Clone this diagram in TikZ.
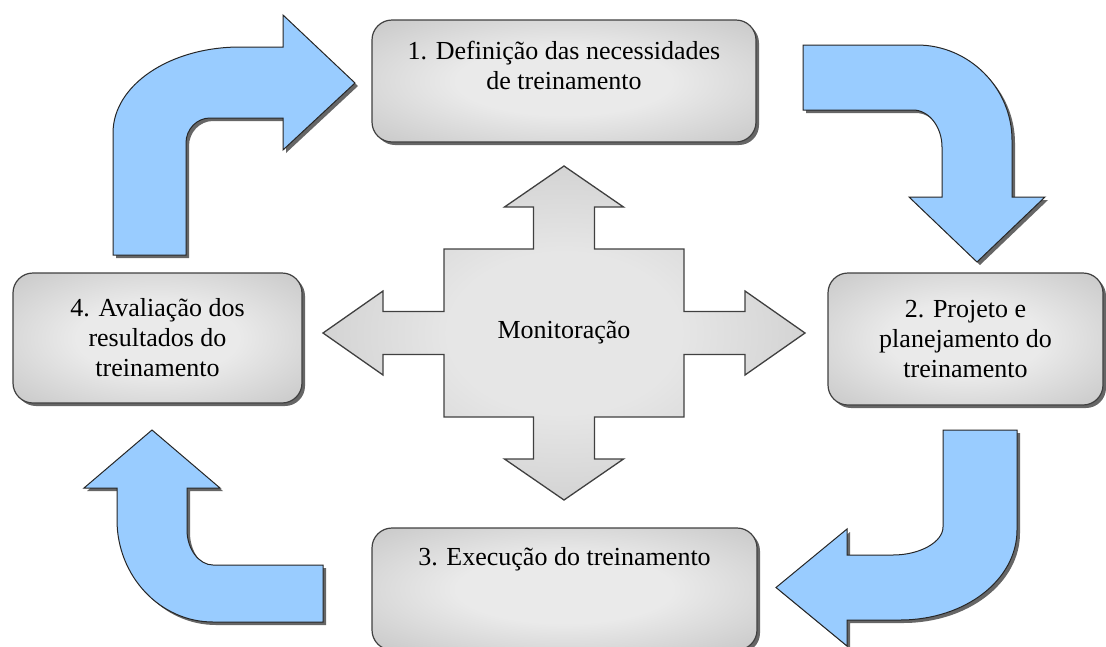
\documentclass[tikz,border=0pt]{standalone}
\usepackage{fontspec}
\setmainfont{Liberation Serif}
\usetikzlibrary{positioning,shadows}

\definecolor{cycleblue}{RGB}{153,204,255}
\definecolor{boxlight}{RGB}{234,234,234}
\definecolor{boxdark}{RGB}{178,178,178}
\definecolor{monlight}{RGB}{230,230,230}
\definecolor{mondark}{RGB}{176,176,176}
\pgfdeclareradialshading{boxshade}{\pgfpoint{0bp}{0bp}}{color(0bp)=(boxlight); color(14bp)=(boxlight); color(50bp)=(boxdark)}
\pgfdeclareradialshading{monshade}{\pgfpoint{0bp}{0bp}}{color(0bp)=(monlight); color(12bp)=(monlight); color(50bp)=(mondark)}

\tikzset{
  stage/.style={draw=black!75, line width=1.2pt, rounded corners=20pt, shading=boxshade,
    drop shadow={shadow xshift=3pt, shadow yshift=-3pt, opacity=0.6, fill=black},
    align=center, inner sep=0pt, font=\fontsize{26}{30}\selectfont},
  stagetext/.style={align=center, inner sep=0pt, font=\fontsize{26}{30}\selectfont},
  cyclearrow/.style={fill=cycleblue, draw=black!85, line width=1pt,
    drop shadow={shadow xshift=3pt, shadow yshift=-3pt, opacity=0.6, fill=black}},
  monarrow/.style={draw=black!75, line width=1.3pt, shading=monshade}
}

\begin{document}
\begin{tikzpicture}[x=1pt,y=-1pt]
        \useasboundingbox (0,0) rectangle (1106,646);

        % the four stages
        \node[stage, minimum width=384pt, minimum height=122pt] (defin) at (564,81) {};
        \node[stagetext, below=22pt of defin.north] (defintxt) {1. Definição das necessidades\\de treinamento};
        \node[stage, minimum width=275pt, minimum height=132pt] (projeto) at (965.5,339) {2. Projeto e\\planejamento do\\treinamento};
        \node[stage, minimum width=385pt, minimum height=122pt] (exec) at (564.5,589) {};
        \node[stagetext, below=20pt of exec.north] (exectxt) {3. Execução do treinamento};
        \node[stage, minimum width=289pt, minimum height=130pt] (aval) at (157.5,338) {4. Avaliação dos\\resultados do\\treinamento};

        % bent arrows of the cycle
        \draw[cyclearrow] (113,255)--(113,133) .. controls (113,85) and (170,47) .. (240,47)--(283,47)--(283,15)--(355,83)--(283,150)--(283,118)--(210,118) .. controls (197,118) and (186,129) .. (186,143)--(186,255)--cycle;
        \draw[cyclearrow] (803,45)--(917,45) .. controls (969,45) and (1012,88) .. (1012,140)--(1012,197)--(1045,197)--(977,262)--(909,197)--(942,197)--(942,147) .. controls (942,127) and (929,110) .. (913,110)--(803,110)--cycle;
        \draw[cyclearrow] (943,430)--(1017,430)--(1017,530) .. controls (1017,580) and (965,620) .. (900,620)--(847,620)--(847,646)--(776,587.5)--(847,529)--(847,555)--(893,555) .. controls (920,555) and (943,542) .. (943,527)--cycle;
        \draw[cyclearrow] (323,565)--(323,622)--(213,622) .. controls (160,622) and (117,576) .. (117,520)--(117,488)--(84,488)--(152,430)--(220,488)--(187,488)--(187,530) .. controls (187,549) and (199,565) .. (213,565)--cycle;

        % monitoring cross
        \begin{scope}[shift={(564,333)}]
        \draw[monarrow] (0,-167)--(59.5,-126)--(30.5,-126)--(30.5,-84)--(120,-84)--(120,-21.5)--(181,-21.5)--(181,-42)--(241,0)--(181,42)--(181,21.5)--(120,21.5)--(120,84)--(30.5,84)--(30.5,126)--(59.5,126)--(0,167)--(-59.5,126)--(-30.5,126)--(-30.5,84)--(-120,84)--(-120,21.5)--(-181,21.5)--(-181,42)--(-241,0)--(-181,-42)--(-181,-21.5)--(-120,-21.5)--(-120,-84)--(-30.5,-84)--(-30.5,-126)--(-59.5,-126)--cycle;
        \end{scope}
        \node[stagetext] (mon) at (564,333) {Monitoração};
    \end{tikzpicture}
\end{document}
